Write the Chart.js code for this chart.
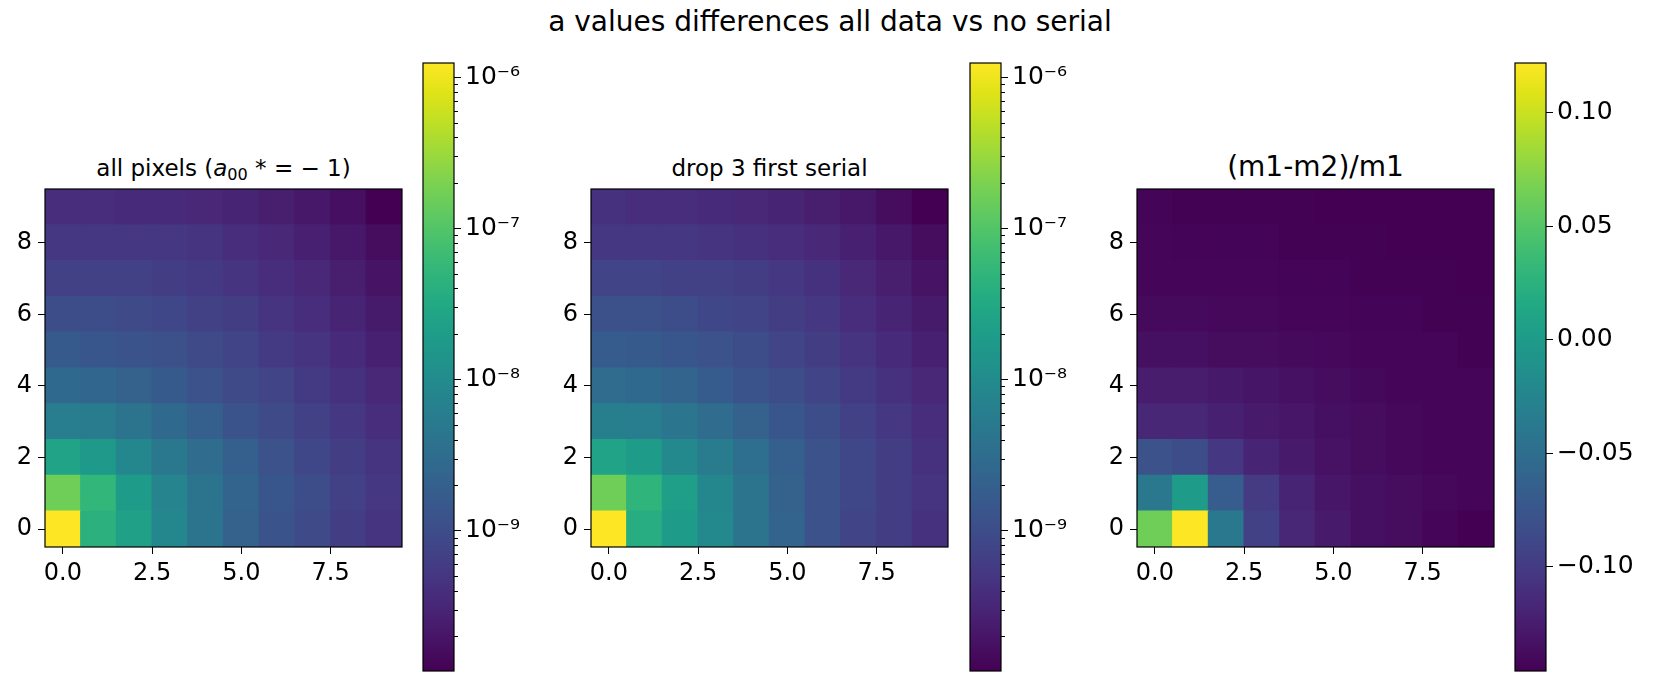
<!DOCTYPE html>
<html>
<head>
<meta charset="utf-8">
<script src="https://cdn.jsdelivr.net/npm/chart.js@4.4.0/dist/chart.umd.min.js"></script>
<style>
  body { margin: 0; width: 1654px; height: 673px; overflow: hidden; background: #fff; position: relative; font-family: 'DejaVu Sans', sans-serif; }
  canvas { position: absolute; }
  .title { position: absolute; color: #000; text-align: center; white-space: nowrap; line-height: 1; }
  .title .sub { font-size: 0.7em; position: relative; top: 0.25em; }
</style>
</head>
<body>
<div class="title" style="left:0; width:1660px; top:8px; font-size:28px;">a values differences all data vs no serial</div>
<div class="title" style="left:45px; width:357px; top:157px; font-size:23px;">all pixels (<i>a</i><span class="sub">00</span> * = − 1)</div>
<div class="title" style="left:591px; width:357px; top:157px; font-size:23px;">drop 3 first serial</div>
<div class="title" style="left:1137px; width:357px; top:153px; font-size:28px;">(m1-m2)/m1</div>

<canvas id="map1" width="447" height="453" style="left:-25px; top:164px;"></canvas>
<canvas id="map2" width="447" height="453" style="left:521px; top:164px;"></canvas>
<canvas id="map3" width="447" height="453" style="left:1067px; top:164px;"></canvas>
<canvas id="cb1" width="126" height="658" style="left:418px; top:43px;"></canvas>
<canvas id="cb2" width="126" height="658" style="left:965px; top:43px;"></canvas>
<canvas id="cb3" width="126" height="658" style="left:1510px; top:43px;"></canvas>

<script>
// grid coordinates of the 10x10 pixel maps
const cols = [0, 1, 2, 3, 4, 5, 6, 7, 8, 9]
const rows = [0, 1, 2, 3, 4, 5, 6, 7, 8, 9]
const xTicks = [0, 2.5, 5, 7.5]
const yTicks = [0, 2, 4, 6, 8]
const logDecades = [1e-9, 1e-8, 1e-7, 1e-6]
const relTicks = [-0.1, -0.05, 0, 0.05, 0.1]

// a values, one inner array per row (row 0 first)
const allPixels = [
  [1.24e-6, 4.4e-8, 2.3e-8, 8.4e-9, 4.0e-9, 2.1e-9, 1.3e-9, 9.1e-10, 6.3e-10, 4.7e-10],
  [1.6e-7, 5.3e-8, 1.9e-8, 7.6e-9, 4.0e-9, 2.3e-9, 1.4e-9, 1.0e-9, 6.9e-10, 5.2e-10],
  [2.5e-8, 1.75e-8, 8.4e-9, 4.8e-9, 3.0e-9, 1.9e-9, 1.2e-9, 8.3e-10, 6.3e-10, 4.7e-10],
  [5.8e-9, 5.3e-9, 4.0e-9, 2.75e-9, 1.9e-9, 1.3e-9, 9.1e-10, 6.9e-10, 5.2e-10, 3.9e-10],
  [2.75e-9, 2.5e-9, 2.1e-9, 1.6e-9, 1.2e-9, 9.1e-10, 7.5e-10, 5.7e-10, 4.3e-10, 3.3e-10],
  [1.6e-9, 1.4e-9, 1.3e-9, 1.1e-9, 9.1e-10, 7.5e-10, 5.7e-10, 4.7e-10, 3.6e-10, 2.7e-10],
  [1.0e-9, 1.0e-9, 9.1e-10, 8.3e-10, 6.9e-10, 6.3e-10, 4.7e-10, 3.9e-10, 3.0e-10, 2.3e-10],
  [6.9e-10, 6.9e-10, 6.9e-10, 6.3e-10, 5.7e-10, 4.7e-10, 3.9e-10, 3.3e-10, 2.5e-10, 1.9e-10],
  [5.2e-10, 5.2e-10, 5.2e-10, 5.2e-10, 4.7e-10, 3.9e-10, 3.3e-10, 2.7e-10, 2.1e-10, 1.56e-10],
  [3.9e-10, 3.9e-10, 3.6e-10, 3.6e-10, 3.3e-10, 3.0e-10, 2.5e-10, 2.1e-10, 1.7e-10, 1.18e-10]
]

const dropSerial = [
  [1.24e-6, 3.7e-8, 1.9e-8, 9.2e-9, 4.0e-9, 2.3e-9, 1.2e-9, 7.5e-10, 6.3e-10, 4.3e-10],
  [1.6e-7, 4.9e-8, 2.1e-8, 8.4e-9, 4.0e-9, 2.1e-9, 1.2e-9, 8.3e-10, 6.3e-10, 4.7e-10],
  [2.5e-8, 1.9e-8, 9.2e-9, 5.3e-9, 3.3e-9, 1.9e-9, 1.2e-9, 8.3e-10, 6.3e-10, 4.3e-10],
  [6.3e-9, 5.8e-9, 4.4e-9, 3.0e-9, 2.1e-9, 1.4e-9, 1.0e-9, 6.9e-10, 5.2e-10, 3.9e-10],
  [3.0e-9, 2.75e-9, 2.3e-9, 1.7e-9, 1.3e-9, 1.0e-9, 7.5e-10, 5.7e-10, 4.3e-10, 3.3e-10],
  [1.7e-9, 1.6e-9, 1.4e-9, 1.2e-9, 1.0e-9, 7.5e-10, 6.3e-10, 4.7e-10, 3.6e-10, 2.7e-10],
  [1.1e-9, 1.1e-9, 1.0e-9, 8.3e-10, 7.5e-10, 6.3e-10, 5.2e-10, 3.9e-10, 3.0e-10, 2.3e-10],
  [7.5e-10, 7.5e-10, 6.9e-10, 6.9e-10, 6.3e-10, 5.2e-10, 4.3e-10, 3.3e-10, 2.5e-10, 1.9e-10],
  [5.2e-10, 5.2e-10, 5.2e-10, 4.7e-10, 4.3e-10, 3.9e-10, 3.3e-10, 2.7e-10, 2.1e-10, 1.56e-10],
  [4.3e-10, 3.9e-10, 3.9e-10, 3.6e-10, 3.3e-10, 3.0e-10, 2.5e-10, 2.1e-10, 1.6e-10, 1.18e-10]
]

const relDiff = [
  [0.063, 0.122, -0.039, -0.095, -0.117, -0.127, -0.135, -0.138, -0.142, -0.146],
  [-0.039, 0.001, -0.068, -0.100, -0.119, -0.130, -0.135, -0.138, -0.141, -0.143],
  [-0.079, -0.084, -0.103, -0.119, -0.127, -0.133, -0.138, -0.141, -0.142, -0.143],
  [-0.117, -0.117, -0.122, -0.127, -0.130, -0.135, -0.138, -0.141, -0.143, -0.143],
  [-0.125, -0.125, -0.128, -0.131, -0.134, -0.137, -0.140, -0.142, -0.143, -0.143],
  [-0.135, -0.135, -0.137, -0.138, -0.139, -0.141, -0.142, -0.143, -0.143, -0.145],
  [-0.139, -0.139, -0.141, -0.141, -0.142, -0.143, -0.144, -0.144, -0.145, -0.145],
  [-0.142, -0.142, -0.143, -0.143, -0.144, -0.144, -0.145, -0.145, -0.145, -0.146],
  [-0.143, -0.144, -0.144, -0.144, -0.145, -0.145, -0.145, -0.146, -0.146, -0.146],
  [-0.144, -0.145, -0.145, -0.145, -0.145, -0.146, -0.146, -0.146, -0.146, -0.146]
]

Chart.defaults.font.family = "'DejaVu Sans', sans-serif"
Chart.defaults.font.size = 24
Chart.defaults.color = '#000'
Chart.defaults.animation = false
Chart.defaults.plugins.legend.display = false
Chart.defaults.plugins.tooltip.enabled = false

const VIRIDIS = [
  '#440154', '#471365', '#482475', '#463480', '#414487', '#3b528b', '#355f8d',
  '#2f6c8e', '#2a788e', '#25848e', '#21918c', '#1e9c89', '#22a884', '#2fb47c',
  '#44bf70', '#5ec962', '#7ad151', '#9bd93c', '#bddf26', '#dfe318', '#fde725'
]

const hexRgb = h => [1, 3, 5].map(i => parseInt(h.slice(i, i + 2), 16))

const viridis = t => {
  t = Math.min(1, Math.max(0, t))
  const p = t * (VIRIDIS.length - 1)
  const i = Math.min(Math.floor(p), VIRIDIS.length - 2)
  const f = p - i
  const a = hexRgb(VIRIDIS[i])
  const b = hexRgb(VIRIDIS[i + 1])
  const c = a.map((v, k) => Math.round(v + (b[k] - v) * f))
  return `rgb(${c[0]},${c[1]},${c[2]})`
}

const makeNorm = (grid, log) => {
  const flat = grid.flat()
  const min = Math.min(...flat)
  const max = Math.max(...flat)
  const f = log ? Math.log10 : v => v
  return { min, max, log, t: v => (f(v) - f(min)) / (f(max) - f(min)) }
}

const SUP = { '-': '⁻', 0: '⁰', 1: '¹', 2: '²', 3: '³', 4: '⁴', 5: '⁵', 6: '⁶', 7: '⁷', 8: '⁸', 9: '⁹' }
const powLabel = v => '10' + String(Math.round(Math.log10(v))).split('').map(ch => SUP[ch]).join('')

// black box around the plot area, like axes spines
const frame = {
  id: 'frame',
  afterDraw(chart) {
    const { ctx, chartArea: a } = chart
    ctx.save()
    ctx.strokeStyle = '#000'
    ctx.lineWidth = 1.2
    ctx.strokeRect(a.left, a.top, a.right - a.left, a.bottom - a.top)
    ctx.restore()
  }
}

// short unlabeled ticks on the colorbar axis
const minorTicks = {
  id: 'minorTicks',
  afterDraw(chart) {
    const { ctx, chartArea: a } = chart
    const scale = chart.scales.y
    ctx.save()
    ctx.strokeStyle = '#000'
    ctx.lineWidth = 1
    scale.ticks.filter(t => t.label === '').forEach(t => {
      const y = Math.round(scale.getPixelForValue(t.value)) + 0.5
      ctx.beginPath()
      ctx.moveTo(a.right, y)
      ctx.lineTo(a.right + 4, y)
      ctx.stroke()
    })
    ctx.restore()
  }
}

const axisGrid = { drawOnChartArea: false, tickLength: 7, tickColor: '#000', tickWidth: 1, offset: false }

const drawMap = (id, grid, norm) => {
  new Chart(document.getElementById(id), {
    type: 'bar',
    data: {
      datasets: grid.map((vals, r) => ({
        data: vals.map((v, c) => ({ x: cols[c], y: [rows[r] - 0.5, rows[r] + 0.5] })),
        backgroundColor: vals.map(v => viridis(norm.t(v)))
      }))
    },
    options: {
      responsive: false,
      layout: { padding: { top: 25, right: 20, left: 0, bottom: 0 } },
      datasets: {
        bar: { grouped: false, barPercentage: 1, categoryPercentage: 1, borderWidth: 0, inflateAmount: 0.6 }
      },
      scales: {
        x: {
          type: 'linear',
          min: -0.5,
          max: 9.5,
          offset: false,
          grid: axisGrid,
          border: { display: false },
          ticks: { padding: 5, maxRotation: 0, autoSkip: false, callback: v => v.toFixed(1) },
          afterBuildTicks: s => { s.ticks = xTicks.map(value => ({ value })) },
          afterFit: s => { s.height = 70 }
        },
        y: {
          type: 'linear',
          min: -0.5,
          max: 9.5,
          grid: axisGrid,
          border: { display: false },
          ticks: { padding: 6, autoSkip: false, callback: v => String(v) },
          afterBuildTicks: s => { s.ticks = yTicks.map(value => ({ value })) },
          afterFit: s => { s.width = 70 }
        }
      }
    },
    plugins: [frame]
  })
}

const gradient = chart => {
  const a = chart.chartArea
  if (!a) return VIRIDIS[0]
  const g = chart.ctx.createLinearGradient(0, a.bottom, 0, a.top)
  VIRIDIS.forEach((c, i) => g.addColorStop(i / (VIRIDIS.length - 1), c))
  return g
}

const drawColorbar = (id, norm, ticks, label) => {
  new Chart(document.getElementById(id), {
    type: 'bar',
    data: {
      labels: [''],
      datasets: [{ data: [[norm.min, norm.max]], backgroundColor: ctx => gradient(ctx.chart), borderWidth: 0 }]
    },
    options: {
      responsive: false,
      layout: { padding: { top: 20, left: 5, bottom: 30, right: 0 } },
      datasets: { bar: { barPercentage: 1, categoryPercentage: 1 } },
      scales: {
        x: { display: false },
        y: {
          type: norm.log ? 'logarithmic' : 'linear',
          position: 'right',
          min: norm.min,
          max: norm.max,
          grid: {
            drawOnChartArea: false,
            tickLength: 7,
            tickWidth: 1,
            tickColor: c => (c.tick && c.tick.label === '' ? 'rgba(0,0,0,0)' : '#000')
          },
          border: { display: false },
          ticks: { padding: 4, autoSkip: false, font: { size: 25 }, callback: label },
          afterBuildTicks: s => { s.ticks = ticks.map(value => ({ value })) },
          afterFit: s => { s.width = 90 }
        }
      }
    },
    plugins: [frame, minorTicks]
  })
}

// decade ticks plus 2..9 minor ticks inside the colour range
const logTicks = norm => {
  const out = []
  const lo = Math.floor(Math.log10(norm.min))
  const hi = Math.ceil(Math.log10(norm.max))
  for (let e = lo; e <= hi; e++) {
    for (let m = 1; m <= 9; m++) {
      const v = m === 1 ? logDecades.find(d => Math.round(Math.log10(d)) === e) || Math.pow(10, e) : m * Math.pow(10, e)
      if (v >= norm.min && v <= norm.max) out.push(v)
    }
  }
  return out
}
const logLabel = v => (logDecades.includes(v) ? powLabel(v) : '')
const relLabel = v => v.toFixed(2).replace('-', '−')

const normAll = makeNorm(allPixels, true)
const normDrop = makeNorm(dropSerial, true)
const normRel = makeNorm(relDiff, false)

drawMap('map1', allPixels, normAll)
drawMap('map2', dropSerial, normDrop)
drawMap('map3', relDiff, normRel)

drawColorbar('cb1', normAll, logTicks(normAll), logLabel)
drawColorbar('cb2', normDrop, logTicks(normDrop), logLabel)
drawColorbar('cb3', normRel, relTicks, relLabel)
</script>
</body>
</html>
